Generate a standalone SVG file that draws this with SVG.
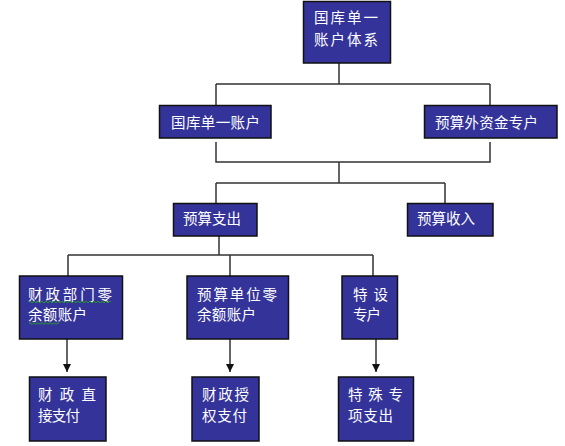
<svg xmlns="http://www.w3.org/2000/svg" width="565" height="446" viewBox="0 0 565 446">
<defs>
<style>
.box{fill:#333399;stroke:#111;stroke-width:1.5}
.t{fill:#fff;font-family:"Noto Sans CJK SC","Noto Sans",sans-serif;font-size:14.5px}
.ln{fill:none;stroke:#333;stroke-width:1.5}
.sq{fill:none;stroke:#2a9a2a;stroke-width:1}
</style>
<marker id="arr" viewBox="0 0 10 10" refX="10" refY="5" markerWidth="8" markerHeight="8" markerUnits="userSpaceOnUse" orient="auto">
<path d="M0,0 L10,5 L0,10 Z" fill="#111"/>
</marker>
</defs>
<rect width="565" height="446" fill="#fff"/>
<g id="connectors">
<path class="ln" d="M339 63 V84 M216 84 H490 M216 84 V105 M490 84 V105"/>
<path class="ln" d="M216 142 V162 H490 V142 M339 162 V183 M216 183 H445 M216 183 V203 M445 183 V203"/>
<path class="ln" d="M219 236 V255 M68 255 H373 M68 255 V276 M230 255 V276 M373 255 V276"/>
<path class="ln" d="M67 339 V372" marker-end="url(#arr)"/>
<path class="ln" d="M230 339 V372" marker-end="url(#arr)"/>
<path class="ln" d="M376 339 V372" marker-end="url(#arr)"/>
</g>
<g id="n-top"><rect class="box" x="303.5" y="1.5" width="87" height="61.5"/>
<text class="t" x="314" y="23" textLength="64" lengthAdjust="spacing">国库单一</text>
<text class="t" x="314" y="45" textLength="64" lengthAdjust="spacing">账户体系</text></g>
<g id="n-a1"><rect class="box" x="159.5" y="105.5" width="111.5" height="32.5"/>
<text class="t" x="171" y="127.5" textLength="89" lengthAdjust="spacing">国库单一账户</text></g>
<g id="n-a2"><rect class="box" x="424.5" y="105.5" width="132.5" height="32.5"/>
<text class="t" x="435" y="127.5" textLength="103" lengthAdjust="spacing">预算外资金专户</text></g>
<g id="n-b1"><rect class="box" x="173.5" y="203.5" width="83.5" height="32.5"/>
<text class="t" x="183" y="224" textLength="58" lengthAdjust="spacing">预算支出</text></g>
<g id="n-b2"><rect class="box" x="407.5" y="203.5" width="85.5" height="32.5"/>
<text class="t" x="417" y="224" textLength="58" lengthAdjust="spacing">预算收入</text></g>
<g id="n-c1"><rect class="box" x="19.5" y="276" width="103" height="63"/>
<text class="t" x="28" y="299.5" textLength="84" lengthAdjust="spacing">财政部门零</text>
<text class="t" x="28" y="320" textLength="59" lengthAdjust="spacing">余额账户</text></g>
<g id="n-c2"><rect class="box" x="187" y="276" width="101.5" height="63"/>
<text class="t" x="197" y="299.5" textLength="80" lengthAdjust="spacing">预算单位零</text>
<text class="t" x="197" y="320" textLength="59" lengthAdjust="spacing">余额账户</text></g>
<g id="n-c3"><rect class="box" x="342" y="276" width="55.5" height="63"/>
<text class="t" x="353" y="299.5" textLength="35" lengthAdjust="spacing">特 设</text>
<text class="t" x="353" y="320" textLength="28" lengthAdjust="spacing">专户</text></g>
<g id="n-d1"><rect class="box" x="29.5" y="377" width="76.5" height="64"/>
<text class="t" x="38" y="400" textLength="58" lengthAdjust="spacing">财 政 直</text>
<text class="t" x="38" y="421" textLength="42" lengthAdjust="spacing">接支付</text></g>
<g id="n-d2"><rect class="box" x="192" y="377" width="67" height="64"/>
<text class="t" x="202" y="400" textLength="47" lengthAdjust="spacing">财政授</text>
<text class="t" x="202" y="421" textLength="45" lengthAdjust="spacing">权支付</text></g>
<g id="n-d3"><rect class="box" x="338.5" y="377" width="75" height="64"/>
<text class="t" x="348" y="400" textLength="55" lengthAdjust="spacing">特 殊 专</text>
<text class="t" x="348" y="421" textLength="45" lengthAdjust="spacing">项支出</text></g>
<g id="squiggles">
<path class="sq" d="M29 302 q1 -1.5 2 0 t2 0 t2 0 t2 0 t2 0 t2 0 t2 0 t2 0 t2 0 t2 0 t2 0 t2 0 t2 0 t2 0 t2 0 t2 0 t2 0 t2 0 t2 0 t2 0 t2 0 t2 0 t2 0 t2 0 t2 0 t2 0 t2 0 t2 0 t2 0 t2 0 t2 0 t2 0 t2 0 t2 0 t2 0 t2 0 t2 0 t2 0 t2 0 t2 0 t2 0"/>
<path class="sq" d="M29 323.5 q1 -1.5 2 0 t2 0 t2 0 t2 0 t2 0 t2 0 t2 0 t2 0 t2 0 t2 0 t2 0 t2 0 t2 0 t2 0 t2 0"/>
</g>
</svg>
